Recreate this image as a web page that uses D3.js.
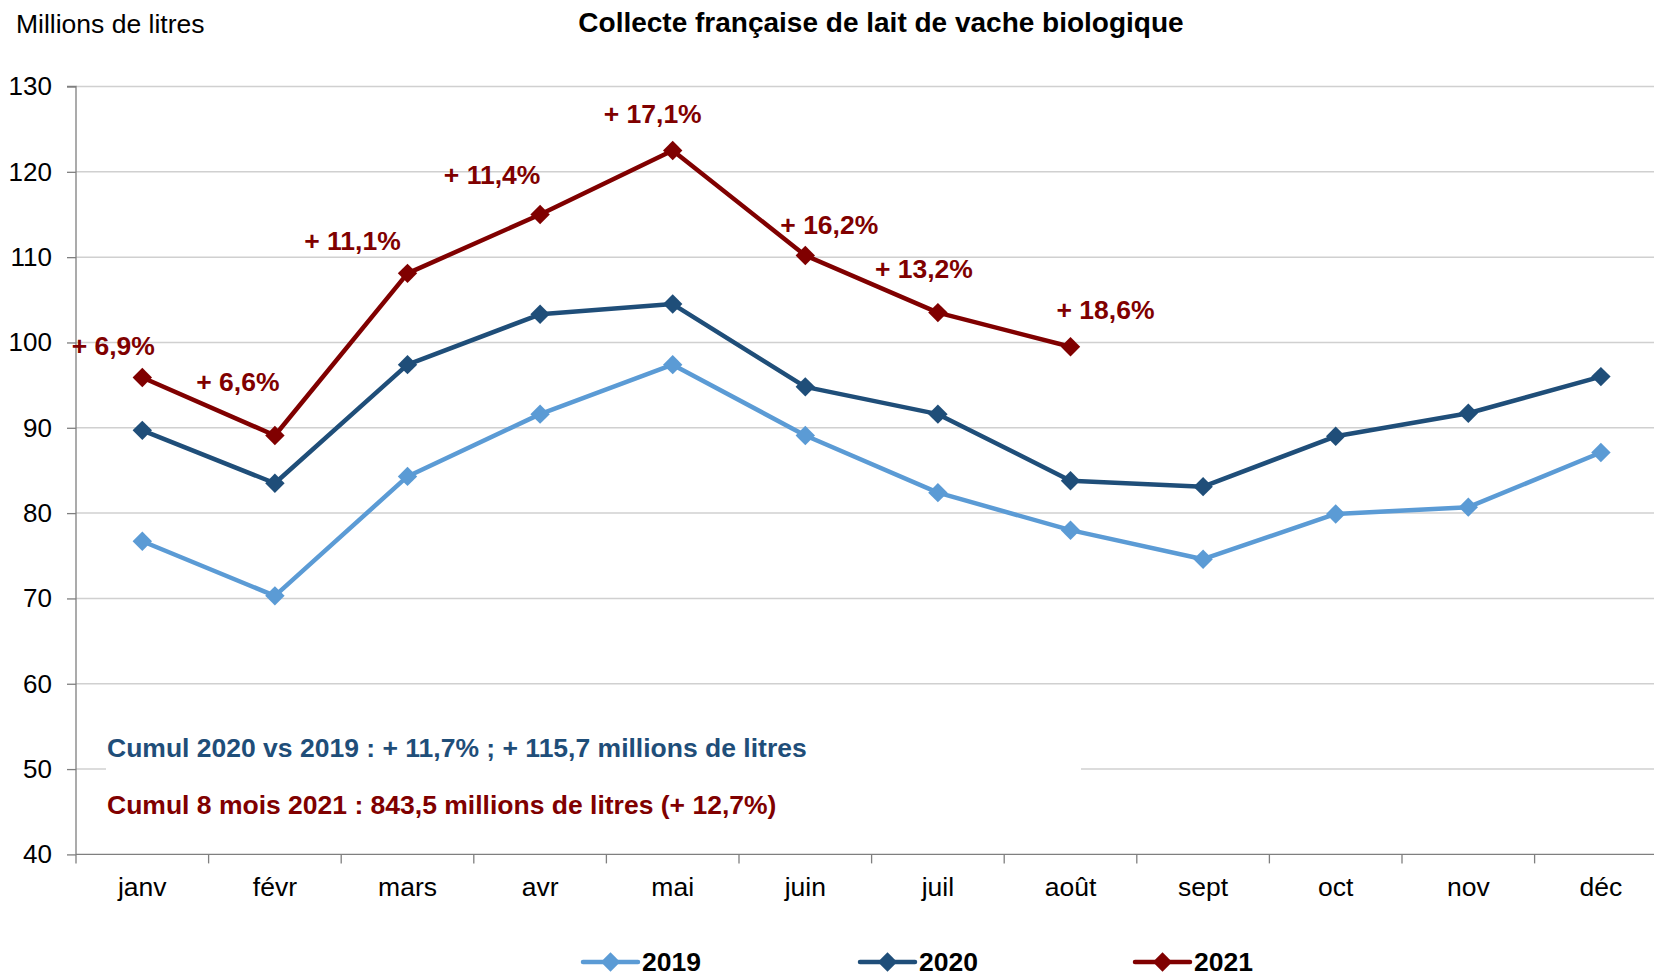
<!DOCTYPE html>
<html>
<head>
<meta charset="utf-8">
<script src="https://cdn.jsdelivr.net/npm/d3@7"></script>
<style>
  html, body { margin: 0; padding: 0; background: #fff; overflow: hidden; }
  svg { display: block; font-family: "Liberation Sans", Arial, sans-serif; }
</style>
</head>
<body>
<svg id="chart" width="1654" height="977"></svg>
<script>
// ---- Data ----
const months = ["janv", "févr", "mars", "avr", "mai", "juin", "juil", "août", "sept", "oct", "nov", "déc"];
const values2019 = [76.7, 70.3, 84.3, 91.6, 97.4, 89.1, 82.4, 78.0, 74.6, 79.9, 80.7, 87.1];
const values2020 = [89.7, 83.5, 97.4, 103.3, 104.5, 94.8, 91.6, 83.8, 83.1, 89.0, 91.7, 96.0];
const values2021 = [95.9, 89.1, 108.1, 115.0, 122.5, 110.2, 103.5, 99.5];
const pctLabels2021 = ["+ 6,9%", "+ 6,6%", "+ 11,1%", "+ 11,4%", "+ 17,1%", "+ 16,2%", "+ 13,2%", "+ 18,6%"];
const yTicks = [40, 50, 60, 70, 80, 90, 100, 110, 120, 130];
const seriesNames = ["2019", "2020", "2021"];
const titleText = "Collecte française de lait de vache biologique";
const yUnitText = "Millions de litres";
const cumul2020Text = "Cumul 2020 vs 2019 : + 11,7% ; + 115,7 millions de litres";
const cumul2021Text = "Cumul 8 mois 2021 : 843,5 millions de litres (+ 12,7%)";

// ---- Layout / style (not data) ----
const colors = { "2019": "#5B9BD5", "2020": "#1F4E79", "2021": "#800000" };
// pixel offsets of the % labels from their points (layout only)
const labelOffsets = [[-29, -31], [-37, -53], [-55, -32], [-48, -39], [-20, -36], [24, -30], [-14, -44], [35, -37]];

const svg = d3.select("#chart");
const plotLeft = 76, plotTop = 86.5, plotBottom = 854.4;
const bandW = 132.6;
const plotRight = plotLeft + bandW * months.length;
const fs = 26.5;

const x = d3.scaleBand().domain(months).range([plotLeft, plotRight]).paddingInner(0).paddingOuter(0);
const y = d3.scaleLinear().domain([40, 130]).range([plotBottom, plotTop]);
const cx = m => x(m) + x.bandwidth() / 2;

// gridlines
svg.append("g").selectAll("line").data(yTicks.filter(t => t !== 40)).join("line")
  .attr("x1", plotLeft).attr("x2", plotRight)
  .attr("y1", d => y(d)).attr("y2", d => y(d))
  .attr("stroke", "#D0D0D0").attr("stroke-width", 1.5);

// white box behind cumul text
svg.append("rect").attr("x", 106).attr("y", 715).attr("width", 975).attr("height", 105).attr("fill", "#fff");

// y axis
const yAxis = d3.axisLeft(y).tickValues(yTicks).tickSize(9).tickPadding(15).tickFormat(d3.format("d"));
const gy = svg.append("g").attr("transform", `translate(${plotLeft},0)`).call(yAxis);
gy.select(".domain").attr("stroke", "#7F7F7F").attr("stroke-width", 1.3).attr("d", `M-9,${plotTop}H0V${plotBottom}`);
gy.selectAll(".tick line").attr("stroke", "#7F7F7F").attr("stroke-width", 1.3);
gy.selectAll(".tick text").attr("font-size", 26).attr("fill", "#000").attr("font-family", "Liberation Sans, Arial, sans-serif");

// x axis
const xAxis = d3.axisBottom(x).tickSize(0).tickPadding(23);
const gx = svg.append("g").attr("transform", `translate(0,${plotBottom})`).call(xAxis);
gx.select(".domain").attr("stroke", "#7F7F7F").attr("stroke-width", 1.3).attr("d", `M${plotLeft},0H${plotRight}`);
gx.selectAll(".tick text").attr("font-size", fs).attr("fill", "#000").attr("font-family", "Liberation Sans, Arial, sans-serif");
// category boundary ticks
svg.append("g").selectAll("line").data(months).join("line")
  .attr("x1", d => x(d)).attr("x2", d => x(d))
  .attr("y1", plotBottom).attr("y2", plotBottom + 9)
  .attr("stroke", "#7F7F7F").attr("stroke-width", 1.3);

// series
const series = [
  { name: "2019", values: values2019 },
  { name: "2020", values: values2020 },
  { name: "2021", values: values2021 }
];
const line = d3.line().x((d, i) => cx(months[i])).y(d => y(d));
const diamond = d3.symbol().type(d3.symbolDiamond2).size(240);

series.forEach(s => {
  const g = svg.append("g");
  g.append("path").datum(s.values).attr("d", line)
    .attr("fill", "none").attr("stroke", colors[s.name]).attr("stroke-width", 4.5)
    .attr("stroke-linejoin", "round");
  g.selectAll("path.mk").data(s.values).join("path").attr("class", "mk")
    .attr("d", diamond)
    .attr("transform", (d, i) => `translate(${cx(months[i])},${y(d)})`)
    .attr("fill", colors[s.name]);
});

// % labels for 2021
svg.append("g").selectAll("text").data(values2021).join("text")
  .attr("x", (d, i) => cx(months[i]) + labelOffsets[i][0])
  .attr("y", (d, i) => y(d) + labelOffsets[i][1])
  .attr("text-anchor", "middle").attr("dominant-baseline", "central")
  .attr("font-size", fs).attr("font-weight", "bold").attr("fill", colors["2021"])
  .text((d, i) => pctLabels2021[i]);

// title & unit
svg.append("text").attr("x", 881).attr("y", 22).attr("text-anchor", "middle").attr("dominant-baseline", "central")
  .attr("font-size", 28).attr("font-weight", "bold").attr("fill", "#000").text(titleText);
svg.append("text").attr("x", 16).attr("y", 24).attr("dominant-baseline", "central")
  .attr("font-size", fs).attr("fill", "#000").text(yUnitText);

// cumul texts
svg.append("text").attr("x", 107).attr("y", 748).attr("dominant-baseline", "central")
  .attr("font-size", fs).attr("font-weight", "bold").attr("fill", colors["2020"]).text(cumul2020Text);
svg.append("text").attr("x", 107).attr("y", 805).attr("dominant-baseline", "central")
  .attr("font-size", fs).attr("font-weight", "bold").attr("fill", colors["2021"]).text(cumul2021Text);

// legend
const legendX = [583, 860, 1135];
const legendY = 962;
const lg = svg.append("g").selectAll("g").data(seriesNames).join("g")
  .attr("transform", (d, i) => `translate(${legendX[i]},${legendY})`);
lg.append("line").attr("x1", 0).attr("x2", 55).attr("y1", 0).attr("y2", 0)
  .attr("stroke", d => colors[d]).attr("stroke-width", 4.5).attr("stroke-linecap", "round");
lg.append("path").attr("d", diamond).attr("transform", "translate(27.5,0)").attr("fill", d => colors[d]);
lg.append("text").attr("x", 59).attr("y", 0).attr("dominant-baseline", "central")
  .attr("font-size", fs).attr("font-weight", "bold").attr("fill", "#000").text(d => d);
</script>
</body>
</html>
